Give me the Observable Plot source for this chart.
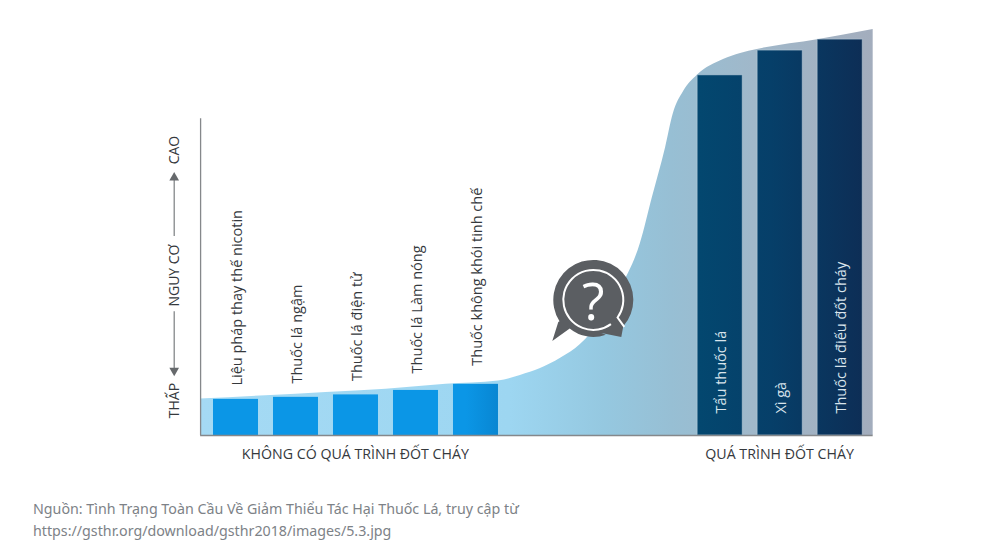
<!DOCTYPE html>
<html lang="vi">
<head>
<meta charset="utf-8">
<script src="https://cdn.jsdelivr.net/npm/d3@7"></script>
<script src="https://cdn.jsdelivr.net/npm/@observablehq/plot@0.6"></script>
<style>
html,body{margin:0;padding:0;background:#fff;}
#chart svg{display:block;}
#source{margin:8px 0 0 33px;font:14.25px/22px "Noto Sans",sans-serif;color:#7d8287;white-space:pre-line;}
</style>
</head>
<body>
<div id="chart"></div>
<div id="source"></div>
<script>
// Data (risk on a 0-100 scale; slot = product position)
const products = ["Liệu pháp thay thế nicotin","Thuốc lá ngậm","Thuốc lá điện tử","Thuốc lá Làm nóng","Thuốc không khói tinh chế","Tẩu thuốc lá","Xì gà","Thuốc lá điếu đốt cháy"];
const slots = [0,1,2,3,4,8.07,9.07,10.07];
const risks = [8.9,9.4,10,11.1,12.6,88.7,94.8,97.5];
const curveSlots = [-0.59,0.5,1.5,2.5,3.5,4.375,4.74,5.075,5.41,5.74,6.075,6.41,6.74,6.94,7.16,7.29,7.46,7.69,8.125,8.41,8.69,9.69,10.62];
const curveRisks = [9,9.8,10.6,11.4,12.6,13.4,14.8,16.5,19,22.4,28.1,36.2,47.3,58.6,70.9,79.3,84.7,88.7,92.6,94.1,95.1,97.5,100];
const groups = ["KHÔNG CÓ QUÁ TRÌNH ĐỐT CHÁY","QUÁ TRÌNH ĐỐT CHÁY"];
const groupSlots = [1.99,9.06];
const riskWords = ["THẤP","NGUY CƠ","CAO"];
const riskWordLevels = [8.6,39.4,70.3];
const sourceLines = ["Nguồn: Tình Trạng Toàn Cầu Về Giảm Thiểu Tác Hại Thuốc Lá, truy cập từ","https://gsthr.org/download/gsthr2018/images/5.3.jpg"];

const barRows = products.map((name,i)=>({name,slot:slots[i],risk:risks[i],i}));
const curve = curveSlots.map((slot,i)=>({slot,risk:curveRisks[i]}));

// Layout
const W=1000,H=490;
const xDomain=[-3.925,12.742], yDomain=[-13.547,107.14];
const halfBar=0.375, axisTop=78, riskAxisSlot=-1.03;
const labelLevels=[12.3,12.8,13.4,15.3,17.2,5.4,5.4,5.4];
const ink="#35393d", grey="#5b5e62";

function defs(){
  const ns="http://www.w3.org/2000/svg";
  const g=document.createElementNS(ns,"g");
  const add=(id,x1,x2,stops)=>{
    const d=document.createElementNS(ns,"linearGradient");
    d.setAttribute("id",id);d.setAttribute("gradientUnits","userSpaceOnUse");
    d.setAttribute("x1",x1);d.setAttribute("x2",x2);d.setAttribute("y1",0);d.setAttribute("y2",0);
    for(const [o,c] of stops){const s=document.createElementNS(ns,"stop");s.setAttribute("offset",o);s.setAttribute("stop-color",c);d.appendChild(s);}
    g.appendChild(d);
  };
  add("curveFill",200,873,[[0,"#a5daf4"],[0.46,"#9dd6f1"],[0.6,"#95c8e0"],[0.7,"#97bfd4"],[0.82,"#a0b8ca"],[1,"#a3adbd"]]);
  add("barFill",213,862,[[0,"#0b96e6"],[0.39,"#0b96e6"],[0.44,"#0886d2"],[0.445,"#03486f"],[0.75,"#03476f"],[0.86,"#063f69"],[1,"#0d2e56"]]);
  return g;
}

// Icon outlines as custom dot symbols, in pixels around the icon centre
const bubble={draw(c){
  c.moveTo(-35,22);c.arc(0,0,40,Math.PI*0.82,Math.PI*0.23,false);
  c.lineTo(28,37);c.lineTo(8,33);c.arc(0,0,37,Math.PI*0.39,Math.PI*0.72,false);
  c.lineTo(-41,41);c.closePath();
}};
const ring={draw(c){c.arc(0,0,30,Math.PI*0.3,Math.PI*0.2,false);c.lineTo(31,27);}};

const plot=Plot.plot({
  width:W,height:H,margin:0,
  x:{axis:null,domain:xDomain,range:[0,W]},
  y:{axis:null,domain:yDomain,range:[H,0]},
  style:{background:"transparent"},
  marks:[
    defs,
    Plot.areaY(curve,{x:"slot",y:"risk",curve:"monotone-x",fill:"url(#curveFill)"}),
    Plot.rect(barRows,{x1:d=>d.slot-halfBar,x2:d=>d.slot+halfBar,y1:0,y2:"risk",fill:"url(#barFill)",
      stroke:d=>d.i>=5?"#c4d8e4":"none",strokeOpacity:0.45,strokeWidth:1}),
    Plot.ruleX([curveSlots[0]],{y1:0,y2:axisTop,stroke:"#85888b",strokeWidth:1.3}),
    Plot.ruleY([0],{x1:curveSlots[0],x2:curveSlots[curveSlots.length-1],stroke:"#85888b",strokeWidth:1.3}),
    Plot.text(barRows,{x:"slot",y:(d,i)=>labelLevels[i],text:"name",rotate:-90,textAnchor:"start",dx:1,
      fill:d=>d.i>=5?"#d9e4ec":ink,fontSize:14.5,fontFamily:"Open Sans"}),
    Plot.text(groups,{x:(d,i)=>groupSlots[i],y:-4.7,text:d=>d,fill:ink,fontSize:14.2,fontFamily:"Open Sans"}),
    // risk axis
    Plot.text(riskWords,{x:riskAxisSlot,y:(d,i)=>riskWordLevels[i],text:d=>d,rotate:-90,fill:ink,fontSize:14,fontFamily:"Open Sans"}),
    Plot.ruleX([riskAxisSlot],{y1:49,y2:63.5,stroke:"#7a7d80",strokeWidth:1.2}),
    Plot.ruleX([riskAxisSlot],{y1:16,y2:30.5,stroke:"#7a7d80",strokeWidth:1.2}),
    Plot.dot([riskAxisSlot],{x:d=>d,y:63.5,symbol:"triangle",r:3.6,fill:"#66696c"}),
    Plot.dot([riskAxisSlot],{x:d=>d,y:16,symbol:"triangle",rotate:180,r:3.6,fill:"#66696c"}),
    // question icon
    Plot.dot([6],{x:d=>d-0.045,y:33.4,symbol:bubble,r:10,fill:grey,stroke:"none"}),
    Plot.dot([6],{x:d=>d-0.045,y:33.4,symbol:ring,r:10,fill:"none",stroke:"#fff",strokeWidth:2}),
    Plot.text(["?"],{x:6-0.045,y:33.4,dy:3,text:d=>d,fill:"#fff",fontSize:52,fontFamily:"Open Sans",fontWeight:400})
  ]
});
document.getElementById("chart").appendChild(plot);
document.getElementById("source").textContent=sourceLines.join("\n");
</script>
</body>
</html>
